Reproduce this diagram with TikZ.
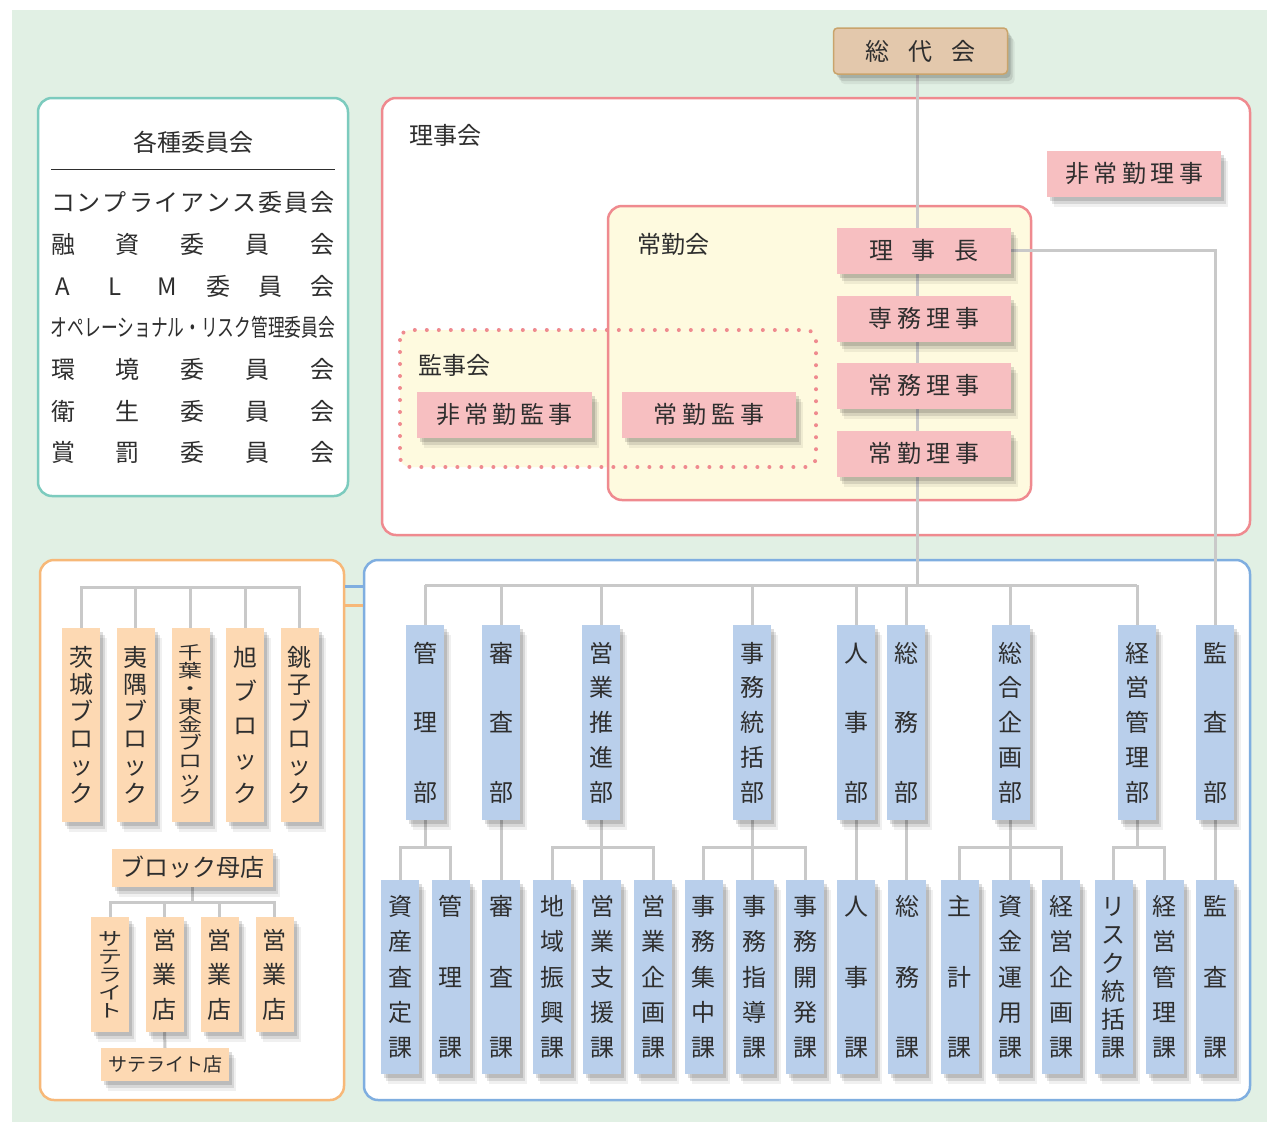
\documentclass[tikz,border=0pt]{standalone}
\usepackage{fontspec}
\usepackage{graphicx}
\setmainfont{Noto Sans CJK JP}
\usetikzlibrary{shadows}

\definecolor{bggreen}{HTML}{E1F0E4}
\definecolor{linegray}{HTML}{C9C9C9}
\definecolor{ink}{HTML}{2E2E2E}
\definecolor{pinkline}{HTML}{EF8A8F}
\definecolor{pinkfill}{HTML}{F7BFC1}
\definecolor{yellowfill}{HTML}{FEFADF}
\definecolor{tealline}{HTML}{7CCBBE}
\definecolor{tanfill}{HTML}{E3C8AC}
\definecolor{tanline}{HTML}{C9A46C}
\definecolor{bluefill}{HTML}{B9CFEB}
\definecolor{blueline}{HTML}{7FAEE0}
\definecolor{orangefill}{HTML}{FDD9B3}
\definecolor{orangeline}{HTML}{F7B878}

\pgfdeclarelayer{back}
\pgfdeclarelayer{wires}
\pgfsetlayers{back,wires,main}

\makeatletter
% stacked characters, spread over the height #2
\newcommand\vtext[3][1]{%
  \edef\vt@list{#3}%
  \vbox to #2{\offinterlineskip\boxmaxdepth=\z@
    \@tempswafalse
    \expandafter\vt@run\expandafter{\vt@list}{#1}}}
\newcommand\vt@run[2]{\@tfor\vt@ch:=#1\do{%
  \if@tempswa\vfill\fi\@tempswatrue
  \hbox to 1em{\hss\scalebox{1}[#2]{\raisebox{\z@}[.88em][.12em]{\vt@ch}}\hss}}}
% characters spread over the width #1
\newcommand\spreadtext[2]{%
  \edef\st@list{#2}%
  \hbox to #1{\@tempswafalse\expandafter\st@run\expandafter{\st@list}}}
\newcommand\st@run[1]{\@tfor\st@ch:=#1\do{\if@tempswa\hfill\fi\@tempswatrue\st@ch}}
\makeatother

\begin{document}
\begin{tikzpicture}[x=1pt,y=-1pt,
  conn/.style={draw=linegray, line width=3pt},
  jtext/.style={font=\fontsize{24pt}{24pt}\selectfont, text=ink,
    text height=21pt, text depth=3pt, inner sep=0pt},
  boxshadow/.style={
    drop shadow={shadow xshift=3pt, shadow yshift=-4pt, opacity=.13, fill=black},
    drop shadow={shadow xshift=5pt, shadow yshift=-7pt, opacity=.10, fill=black},
    drop shadow={shadow xshift=7pt, shadow yshift=-10pt, opacity=.06, fill=black}},
  pinkbox/.style={jtext, boxshadow, fill=pinkfill,
    minimum width=174pt, minimum height=46pt},
  vbar/.style={boxshadow, inner sep=0pt, minimum width=38pt, text=ink,
    font=\fontsize{24pt}{24pt}\selectfont},
  dept/.style={vbar, fill=bluefill, minimum height=195pt},
  sect/.style={vbar, fill=bluefill, minimum height=194pt},
  blockbox/.style={vbar, fill=orangefill, minimum height=194pt},
  shopbox/.style={vbar, fill=orangefill, minimum height=115pt},
  panel/.style={line width=2.5pt, rounded corners=14pt, fill=white}]

\useasboundingbox (0,0) rectangle (1267,1122);

\begin{pgfonlayer}{back}
  \fill[white] (0,0) rectangle (1267,1122);
  \fill[bggreen] (12,10) rectangle (1267,1122);
  %
  \draw[panel, draw=tealline] (38,98) rectangle (348,496);
  \draw[panel, draw=pinkline] (382,98) rectangle (1250,535);
  \fill[yellowfill, rounded corners=10pt] (400,330) rectangle (816,467);
  \draw[panel, draw=pinkline, fill=yellowfill] (608,206) rectangle (1031,500);
  \draw[pinkline, line width=4pt, line cap=round, dash pattern=on 0pt off 12pt,
    rounded corners=10pt] (400,330) rectangle (816,467);
  %
  \node[panel, draw=orangeline, minimum width=304pt, minimum height=540pt]
    (branches) at (192,830) {};
  \node[panel, draw=blueline, minimum width=886pt, minimum height=540pt]
    (hq) at (807,830) {};
\end{pgfonlayer}

% committees
\node[jtext] (kakushu) at (193,142) {各種委員会};
\draw[ink, line width=1pt] (51,169) -- (335,169);
\foreach \y/\row in {202/コンプライアンス委員会, 244/融資委員会,
    369/環境委員会, 411/衛生委員会, 452/賞罰委員会}
  \node[jtext] (row\y) at (193,\y) {\spreadtext{284pt}{\row}};
\node[jtext] (alm) at (193,286) {\hbox to 284pt{\makebox[1em]{A}\hfill
  \makebox[1em]{L}\hfill\makebox[1em]{M}\hfill 委\hfill 員\hfill 会}};
\node[jtext] (oprisk) at (193,327)
  {\resizebox{284pt}{\height}{オペレーショナル・リスク管理委員会}};

% board
\node[jtext, anchor=west] (rijikai) at (409,135) {理事会};
\node[jtext, anchor=west] (jokinkai) at (637,244) {常勤会};
\node[jtext, anchor=west] (kanjikai) at (418,365) {監事会};
\node[jtext, boxshadow, fill=tanfill, draw=tanline, line width=1.5pt,
  rounded corners=4pt, minimum width=174pt, minimum height=46pt]
  (sodai) at (920.5,51) {\spreadtext{110pt}{総代会}};
\node[pinkbox] (rijicho) at (924,250.5) {\spreadtext{109pt}{理事長}};
\node[pinkbox] (senmu) at (924,318.5) {\spreadtext{112pt}{専務理事}};
\node[pinkbox] (jomu) at (924,385.5) {\spreadtext{112pt}{常務理事}};
\node[pinkbox] (jokin) at (924,453.5) {\spreadtext{112pt}{常勤理事}};
\node[pinkbox] (hijokinriji) at (1134,173.5) {\spreadtext{138pt}{非常勤理事}};
\node[pinkbox, minimum width=175pt] (hijokinkanji) at (504.5,414.5)
  {\spreadtext{137pt}{非常勤監事}};
\node[pinkbox] (jokinkanji) at (709,414.5) {\spreadtext{111pt}{常勤監事}};

% departments and sections
\foreach \n/\x/\chars in {kanri/425/管理部, shinsa/501/審査部,
    eigyo/601/営業推進部, jimu/752/事務統括部, jinji/856/人事部,
    somu/906/総務部, sogo/1010.5/総合企画部, keiei/1137/経営管理部,
    kansa/1215/監査部}
  \node[dept] (\n) at (\x,722.5) {\vtext{163pt}{\chars}};
\foreach \n/\x/\chars in {shisan/400/資産査定課, kanrika/450.5/管理課,
    shinsaka/501/審査課, chiiki/552/地域振興課, shien/602/営業支援課,
    eikikaku/653/営業企画課, shuchu/703.5/事務集中課, shido/754.5/事務指導課,
    kaihatsu/805/事務開発課, jinjika/856/人事課, somuka/907/総務課,
    shukei/959.5/主計課, shikin/1010.5/資金運用課, keikikaku/1061/経営企画課,
    risk/1113.5/リスク統括課, keikanri/1164.5/経営管理課, kansaka/1215/監査課}
  \node[sect] (\n) at (\x,977) {\vtext{165pt}{\chars}};

% branches
\foreach \n/\x/\s/\h/\chars in {ibaraki/81/1/160pt/茨城ブロック,
    isumi/135.5/1/160pt/夷隅ブロック, chiba/190.5/.75/162pt/千葉・東金ブロック,
    asahi/245/1/160pt/旭ブロック, choshi/299.5/1/160pt/銚子ブロック}
  \node[blockbox] (\n) at (\x,725) {\vtext[\s]{\h}{\chars}};
\node[jtext, boxshadow, fill=orangefill, minimum width=161pt, minimum height=38pt]
  (bohten) at (192.5,867.5) {ブロック母店};
\node[shopbox] (sat) at (110,974.5) {\vtext[.75]{90pt}{サテライト}};
\foreach \n/\x in {shop1/164.5, shop2/219.5, shop3/274.5}
  \node[shopbox] (\n) at (\x,974.5) {\vtext{93pt}{営業店}};
\node[jtext, boxshadow, fill=orangefill, font=\fontsize{19pt}{19pt}\selectfont,
  text height=16.7pt, text depth=2.3pt, minimum width=128pt, minimum height=33pt]
  (satten) at (165,1064.5) {サテライト店};

\begin{pgfonlayer}{wires}
  \draw[blueline, line width=3pt] ([yshift=-28pt]branches.north east)
    -- ([yshift=-28pt]hq.north west);
  \draw[orangeline, line width=3pt] ([yshift=-47pt]branches.north east)
    -- ([yshift=-47pt]hq.north west);
  %
  \coordinate (hub) at (917,585);
  \draw[conn] (sodai.south -| hub) -- (hub);
  \draw[conn] (kanri.north |- hub) -- (keiei.north |- hub);
  \foreach \n in {kanri,shinsa,eigyo,jimu,jinji,somu,sogo,keiei}
    \draw[conn] (\n.north) -- (\n.north |- hub);
  \draw[conn] (rijicho.east) -| (kansa.north);
  %
  \draw[conn] (kanri.south) -- ++(0,28);
  \draw[conn] (shisan.north) -- ++(0,-32) -| (kanrika.north);
  \draw[conn] (shinsa.south) -- (shinsaka.north);
  \draw[conn] (eigyo.south) -- (eigyo.south |- shien.north);
  \draw[conn] (chiiki.north) -- ++(0,-32) -| (eikikaku.north);
  \draw[conn] (jimu.south) -- (jimu.south |- shido.north);
  \draw[conn] (shuchu.north) -- ++(0,-32) -| (kaihatsu.north);
  \draw[conn] (jinji.south) -- (jinjika.north);
  \draw[conn] (somu.south) -- (somu.south |- somuka.north);
  \draw[conn] (sogo.south) -- (shikin.north);
  \draw[conn] (shukei.north) -- ++(0,-32) -| (keikikaku.north);
  \draw[conn] (keiei.south) -- ++(0,28);
  \draw[conn] (risk.north) -- ++(0,-32) -| (keikanri.north);
  \draw[conn] (kansa.south) -- (kansaka.north);
  %
  \draw[conn] (ibaraki.north) -- ++(0,-40) -| (choshi.north);
  \foreach \n in {isumi,chiba,asahi}
    \draw[conn] (\n.north) -- ++(0,-40);
  \draw[conn] (sat.north) -- ++(0,-14) coordinate (shopbus) -| (shop3.north);
  \foreach \n in {shop1,shop2}
    \draw[conn] (\n.north) -- (\n.north |- shopbus);
  \draw[conn] (bohten.south) -- (bohten.south |- shopbus);
  \draw[conn] (shop1.south) -- (satten.north);
\end{pgfonlayer}
\end{tikzpicture}
\end{document}
